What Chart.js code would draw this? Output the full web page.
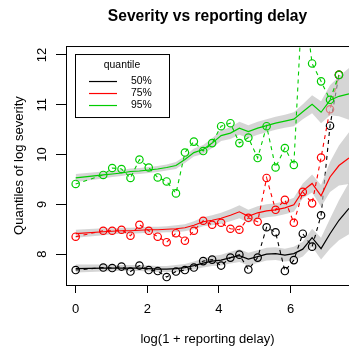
<!DOCTYPE html>
<html>
<head>
<meta charset="utf-8">
<title>Severity vs reporting delay</title>
<script src="https://cdn.jsdelivr.net/npm/chart.js@4.4.1/dist/chart.umd.min.js"></script>
<style>
  html, body { margin: 0; padding: 0; background: #fff; overflow: hidden; }
  #wrap { width: 349px; height: 346px; }
</style>
</head>
<body>
<div id="wrap"><canvas id="severity-chart" width="349" height="346"></canvas></div>
<script>
// log(1 + reporting delay) of each delay group
var delayX = [0, 0.77, 1.02, 1.28, 1.53, 1.78, 2.04, 2.29, 2.54, 2.80, 3.05, 3.30, 3.56, 3.81,
              4.06, 4.32, 4.57, 4.82, 5.08, 5.33, 5.58, 5.84, 6.09, 6.34, 6.60, 6.85, 7.10, 7.35];

// empirical quantiles of log severity (circles + dashed line)
var q50 = [7.68, 7.73, 7.72, 7.75, 7.65, 7.77, 7.68, 7.66, 7.54, 7.65, 7.68, 7.73, 7.86, 7.89,
           7.77, 7.93, 7.99, 7.69, 7.93, 8.54, 8.44, 7.66, 7.88, 8.41, 8.15, 8.78, 10.58, 11.60];
var q75 = [8.35, 8.47, 8.47, 8.49, 8.37, 8.59, 8.47, 8.35, 8.24, 8.42, 8.27, 8.47, 8.67, 8.59,
           8.63, 8.51, 8.49, 8.73, 8.65, 9.53, 8.89, 9.09, 8.63, 9.25, 9.02, 9.94, 10.91, 11.60];
var q95 = [9.41, 9.59, 9.73, 9.71, 9.53, 9.90, 9.74, 9.54, 9.46, 9.22, 10.04, 10.26, 10.07, 10.23,
           10.57, 10.63, 10.23, 10.34, 9.93, 10.57, 9.74, 10.13, 9.79, 13.30, 11.83, 11.47, 11.10, 11.60];

// smoothed quantiles (solid line) and half width of the grey band
var smoothX = [0, 0.77, 1.02, 1.28, 1.53, 1.78, 2.04, 2.29, 2.54, 2.80, 3.05, 3.30, 3.56, 3.81,
               4.06, 4.32, 4.57, 4.82, 5.08, 5.33, 5.58, 5.84, 6.09, 6.34, 6.60, 6.85, 7.10, 7.35, 7.63];
var smooth50 = [7.71, 7.72, 7.72, 7.72, 7.72, 7.72, 7.71, 7.70, 7.70, 7.71, 7.73, 7.77, 7.82, 7.86,
                7.88, 7.93, 7.97, 7.90, 7.95, 8.00, 8.01, 7.98, 8.01, 8.10, 8.33, 8.11, 8.41, 8.68, 8.92];
var smooth75 = [8.41, 8.45, 8.46, 8.47, 8.47, 8.48, 8.49, 8.49, 8.50, 8.51, 8.53, 8.58, 8.65, 8.68,
                8.72, 8.78, 8.85, 8.76, 8.83, 8.87, 8.89, 8.93, 8.99, 9.27, 9.42, 9.17, 9.55, 9.78, 9.93];
var smooth95 = [9.53, 9.59, 9.61, 9.63, 9.66, 9.67, 9.69, 9.71, 9.74, 9.78, 9.90, 10.04, 10.10, 10.23,
                10.38, 10.43, 10.53, 10.46, 10.53, 10.58, 10.63, 10.67, 10.71, 10.86, 11.01, 10.85, 11.09, 11.17, 11.22];
var bandHalf = [0.08, 0.07, 0.06, 0.06, 0.06, 0.06, 0.06, 0.06, 0.06, 0.07, 0.07, 0.08, 0.09, 0.10,
                0.11, 0.12, 0.13, 0.13, 0.13, 0.13, 0.13, 0.13, 0.14, 0.15, 0.18, 0.22, 0.30, 0.40, 0.52];

var quantileLabels = ['50%', '75%', '95%'];
var seriesColors = ['#000000', '#ff0000', '#00cd00'];
var xTicks = [0, 2, 4, 6];
var yTicks = [8, 9, 10, 11, 12];

var FONT = "'Liberation Sans', Arial, Helvetica, sans-serif";
Chart.defaults.font.family = FONT;
Chart.defaults.color = '#000';

function toPoints(xs, ys) {
    return ys.map(function (y, i) { return { x: xs[i], y: y }; });
}

var rawSeries = [q50, q75, q95];
var smoothSeries = [smooth50, smooth75, smooth95];
var datasets = [];

// per quantile: band, smooth line, then the observed points on top
for (var s = 0; s < 3; s++) {
    var sm = smoothSeries[s];
    datasets.push({
        label: 'band low ' + quantileLabels[s],
        data: toPoints(smoothX, sm.map(function (v, i) { return v - bandHalf[i]; })),
        borderWidth: 0, pointRadius: 0, fill: false
    });
    datasets.push({
        label: 'band high ' + quantileLabels[s],
        data: toPoints(smoothX, sm.map(function (v, i) { return v + bandHalf[i]; })),
        borderWidth: 0, pointRadius: 0,
        fill: '-1', backgroundColor: 'rgba(190,190,190,0.65)'
    });
    datasets.push({
        label: quantileLabels[s],
        data: toPoints(smoothX, sm),
        borderColor: seriesColors[s], borderWidth: 1.2, pointRadius: 0, fill: false
    });
    datasets.push({
        label: 'observed ' + quantileLabels[s],
        data: toPoints(delayX, rawSeries[s]),
        borderColor: seriesColors[s], borderWidth: 1.1, borderDash: [4, 4],
        pointRadius: 3.7, pointBorderWidth: 1.2,
        pointBorderColor: seriesColors[s], pointBackgroundColor: 'rgba(0,0,0,0)',
        fill: false
    });
}
// first dataset must be painted first
datasets.forEach(function (d, i) { d.order = datasets.length - i; d.tension = 0; });

// frame round the plot region, rotated y tick labels and the legend box
var extrasPlugin = {
    id: 'extras',
    afterDraw: function (chart) {
        var ctx = chart.ctx;
        var area = chart.chartArea;
        ctx.save();
        ctx.strokeStyle = '#000';
        ctx.lineWidth = 1;
        ctx.strokeRect(area.left + 0.5, area.top + 0.5, area.right - area.left, area.bottom - area.top);

        // y tick labels, turned like in base graphics
        var yScale = chart.scales.y;
        ctx.fillStyle = '#000';
        ctx.font = '13px ' + FONT;
        ctx.textAlign = 'center';
        ctx.textBaseline = 'middle';
        yTicks.forEach(function (v) {
            ctx.save();
            ctx.translate(42, yScale.getPixelForValue(v));
            ctx.rotate(-Math.PI / 2);
            ctx.fillText(String(v), 0, 0);
            ctx.restore();
        });

        // legend
        var lx = area.left + 9, ly = area.top + 8, lw = 94, lh = 63;
        ctx.fillStyle = '#fff';
        ctx.fillRect(lx, ly, lw, lh);
        ctx.strokeRect(lx + 0.5, ly + 0.5, lw, lh);
        ctx.fillStyle = '#000';
        ctx.font = '10.4px ' + FONT;
        ctx.fillText('quantile', lx + lw / 2, ly + 11);
        ctx.textAlign = 'left';
        quantileLabels.forEach(function (lab, i) {
            var yy = ly + 27 + i * 12;
            ctx.strokeStyle = seriesColors[i];
            ctx.lineWidth = 1.2;
            ctx.beginPath();
            ctx.moveTo(lx + 14, yy + 0.5);
            ctx.lineTo(lx + 42, yy + 0.5);
            ctx.stroke();
            ctx.fillText(lab, lx + 56, yy);
        });
        ctx.restore();
    }
};

new Chart(document.getElementById('severity-chart'), {
    type: 'line',
    data: { datasets: datasets },
    options: {
        responsive: false,
        animation: false,
        events: [],
        devicePixelRatio: 1,
        layout: { padding: 0, autoPadding: false },
        plugins: {
            legend: { display: false },
            tooltip: { enabled: false },
            title: {
                display: true,
                fullSize: false,
                text: 'Severity vs reporting delay',
                color: '#000',
                font: { size: 15.6, weight: 'bold', family: FONT },
                padding: { top: 7.5, bottom: 19.8 }
            }
        },
        scales: {
            x: {
                type: 'linear',
                min: -0.27,
                max: 7.63,
                afterBuildTicks: function (scale) {
                    scale.ticks = xTicks.map(function (v) { return { value: v }; });
                },
                afterFit: function (scale) { scale.height = 61; },
                grid: { drawOnChartArea: false, drawTicks: true, tickLength: 8, color: '#000' },
                border: { display: false },
                ticks: { color: '#000', font: { size: 13 }, padding: 9, maxRotation: 0 },
                title: {
                    display: true,
                    text: 'log(1 + reporting delay)',
                    color: '#000',
                    font: { size: 13 },
                    padding: { top: 0, bottom: -1.5 }
                }
            },
            y: {
                type: 'linear',
                min: 7.38,
                max: 12.18,
                afterBuildTicks: function (scale) {
                    scale.ticks = yTicks.map(function (v) { return { value: v }; });
                },
                afterFit: function (scale) { scale.width = 66; },
                grid: { drawOnChartArea: false, drawTicks: true, tickLength: 10, color: '#000' },
                border: { display: false },
                ticks: { display: false },
                title: {
                    display: true,
                    text: 'Quantiles of log severity',
                    color: '#000',
                    font: { size: 13 },
                    padding: { top: 12, bottom: 0 }
                }
            }
        }
    },
    plugins: [extrasPlugin]
});
</script>
</body>
</html>
